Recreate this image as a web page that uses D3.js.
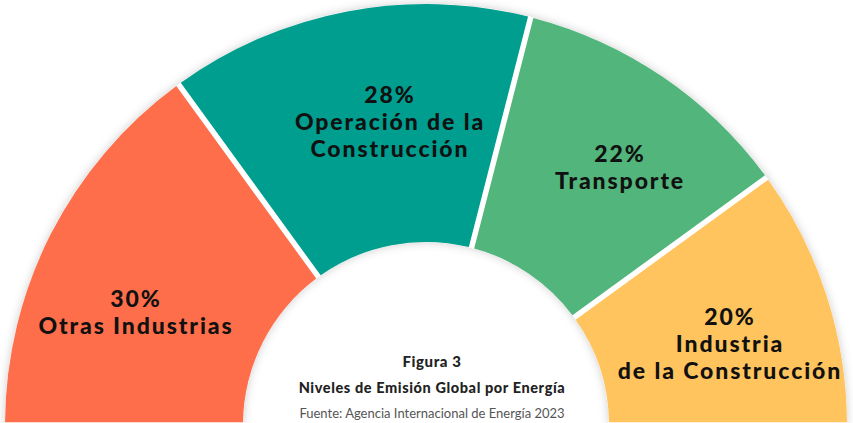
<!DOCTYPE html>
<html>
<head>
<meta charset="utf-8">
<script src="https://cdn.jsdelivr.net/npm/d3@7"></script>
<style>
  html, body { margin: 0; padding: 0; background: #fff; }
  svg { display: block; }
</style>
</head>
<body>
<svg id="chart" width="853" height="423"></svg>
<script>
// ---- data ----
const categories = ["Otras Industrias", "Operación de la Construcción", "Transporte", "Industria de la Construcción"];
const values = [30, 28, 22, 20];
const labelLines = [
  ["Otras Industrias"],
  ["Operación de la", "Construcción"],
  ["Transporte"],
  ["Industria", "de la Construcción"]
];
const colors = ["#FF6E4A", "#009E8F", "#52B57C", "#FFC45E"];
const titleLines = ["Figura 3", "Niveles de Emisión Global por Energía"];
const sourceText = "Fuente: Agencia Internacional de Energía 2023";

// ---- layout ----
const W = 853, H = 423;
const cx = 426, cy = 425;
const outerR = 421, innerR = 183;
const labelAnchors = [[136, 307], [390, 103], [620, 162], [730, 325]]; // baseline of percentage line
const lineGap = 27;
const fontFamily = "Lato, 'Open Sans', sans-serif";

const svg = d3.select("#chart");
const defs = svg.append("defs");
const f = defs.append("filter").attr("id", "shadow")
  .attr("x", "-10%").attr("y", "-10%").attr("width", "120%").attr("height", "120%");
f.append("feDropShadow").attr("dx", 0).attr("dy", 0).attr("stdDeviation", 5)
  .attr("flood-color", "#000").attr("flood-opacity", 0.2);

const pie = d3.pie().sort(null).value(d => d)
  .startAngle(-Math.PI / 2).endAngle(Math.PI / 2);
const arcs = pie(values);
const arc = d3.arc().innerRadius(innerR).outerRadius(outerR)
  .padAngle(0.055).padRadius(100);

const g = svg.append("g").attr("transform", `translate(${cx},${cy})`);
// white backing band carrying the soft shadow
g.append("path")
  .attr("d", d3.arc().innerRadius(innerR).outerRadius(outerR)({startAngle: -Math.PI / 2, endAngle: Math.PI / 2}))
  .attr("fill", "#fff")
  .attr("filter", "url(#shadow)");
g.append("g")
  .selectAll("path").data(arcs).join("path")
  .attr("d", arc)
  .attr("fill", (d, i) => colors[i]);

// labels
const lg = svg.append("g");
arcs.forEach((a, i) => {
  const [x, y] = labelAnchors[i];
  const t = lg.append("text")
    .attr("x", x).attr("y", y)
    .attr("text-anchor", "middle")
    .attr("font-family", fontFamily)
    .attr("font-weight", 900)
    .attr("font-size", 23)
    .attr("letter-spacing", 1.9)
    .attr("fill", "#111");
  t.append("tspan").attr("x", x).attr("dy", 0).text(a.data + "%");
  labelLines[i].forEach(line => {
    t.append("tspan").attr("x", x).attr("dy", lineGap).text(line);
  });
});

// center text
const tx = 432;
svg.append("text").attr("x", tx).attr("y", 367)
  .attr("text-anchor", "middle").attr("font-family", fontFamily)
  .attr("font-weight", 900).attr("font-size", 15).attr("letter-spacing", 0.6).attr("fill", "#222")
  .text(titleLines[0]);
svg.append("text").attr("x", tx).attr("y", 393)
  .attr("text-anchor", "middle").attr("font-family", fontFamily)
  .attr("font-weight", 900).attr("font-size", 14.5).attr("letter-spacing", 0.6).attr("fill", "#222")
  .text(titleLines[1]);
svg.append("text").attr("x", tx).attr("y", 418)
  .attr("text-anchor", "middle").attr("font-family", fontFamily)
  .attr("font-weight", 400).attr("font-size", 13).attr("fill", "#555")
  .text(sourceText);
</script>
</body>
</html>
